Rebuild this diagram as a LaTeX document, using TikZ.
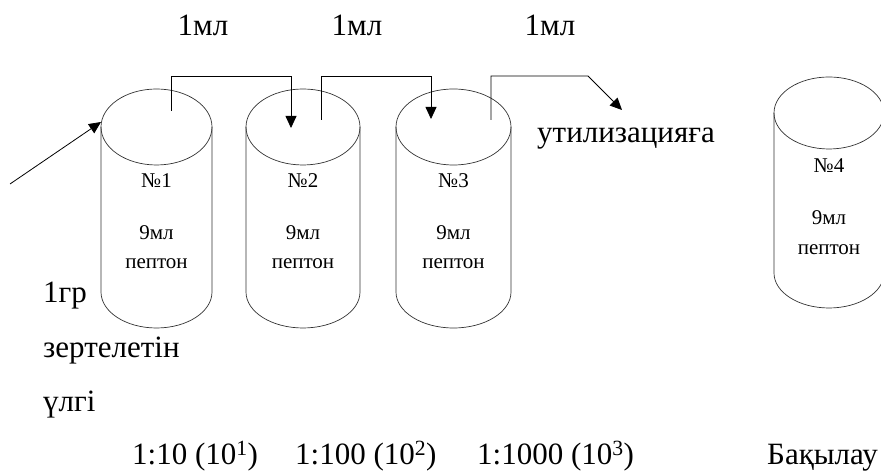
\documentclass[tikz,border=0pt]{standalone}
\usepackage{fontspec}
\setmainfont{LiberationSerif}[Extension=.ttf, UprightFont=*-Regular, BoldFont=*-Bold]
\usetikzlibrary{arrows.meta}

\begin{document}
\begin{tikzpicture}[x=1pt,y=1pt,
  tube/.style={line width=0.7pt, draw=black!80},
  flow/.style={line width=0.8pt, -{Triangle[length=12pt,width=11pt]}},
  big/.style={font=\fontsize{31}{37}\selectfont, inner sep=0pt, anchor=base west},
  small/.style={font=\fontsize{21}{25}\selectfont, inner sep=0pt, anchor=base}]
\useasboundingbox (0,0) rectangle (881,473);
\newcommand{\tubetop}{346}

% Dilution tubes: x/radius/name
\foreach \cx/\rx/\n in {156.5/55.5/1, 303/57/2, 453.5/57.5/3} {
  \draw[tube] (\cx,\tubetop) ellipse (\rx pt and 38pt);
  \draw[tube] (\cx-\rx,\tubetop) -- (\cx-\rx,181) arc (180:360:\rx pt and 36pt) -- (\cx+\rx,\tubetop);
  \node[small] (num\n) at (\cx,285) {№\n};
  \node[small] (vol\n) at (\cx,233) {9мл};
  \node[small] (pep\n) at (\cx,204) {пептон};
}

% Control tube
\draw[tube] (829,360) ellipse (55pt and 36pt);
\draw[tube] (774,360) -- (774,200) arc (180:360:55pt and 35pt) -- (884,360);
\node[small] (num4) at (829,300) {№4};
\node[small] (vol4) at (829,248) {9мл};
\node[small] (pep4) at (829,218) {пептон};

% Transfer points
\coordinate (lvl) at (0,397);
\coordinate (src) at (10,289);
\coordinate (in1) at (101,351);
\coordinate (out1) at (171,362);
\coordinate (in2) at (291,345);
\coordinate (out2) at (321,353);
\coordinate (in3) at (431,354);
\coordinate (out3) at (491,353);
\coordinate (bend3) at (588,397);
\coordinate (waste) at (622,363);

% Transfer arrows
\draw[flow] (src) -- (in1);
\draw[flow] (out1) |- (in2 |- lvl) -- (in2);
\draw[flow] (out2) |- (in3 |- lvl) -- (in3);
\draw[flow] (out3) |- (bend3) -- (waste);

% Volume labels
\node[big, anchor=base] (ml1) at (203,437) {1мл};
\node[big, anchor=base] (ml2) at (357,437) {1мл};
\node[big, anchor=base] (ml3) at (550,437) {1мл};
\node[big] (util) at (537,330) {утилизацияға};

% Sample label
\node[big] (gr) at (43,170) {1гр};
\node[big] (zert) at (43,115) {зертелетін};
\node[big] (ulgi) at (43,61) {үлгі};

% Dilutions
\node[big] (d1) at (132,8) {1:10 (10\textsuperscript{1})};
\node[big] (d2) at (295,8) {1:100 (10\textsuperscript{2})};
\node[big] (d3) at (477,8) {1:1000 (10\textsuperscript{3})};
\node[big] (ctrl) at (767,8) {Бақылау};

\end{tikzpicture}
\end{document}
